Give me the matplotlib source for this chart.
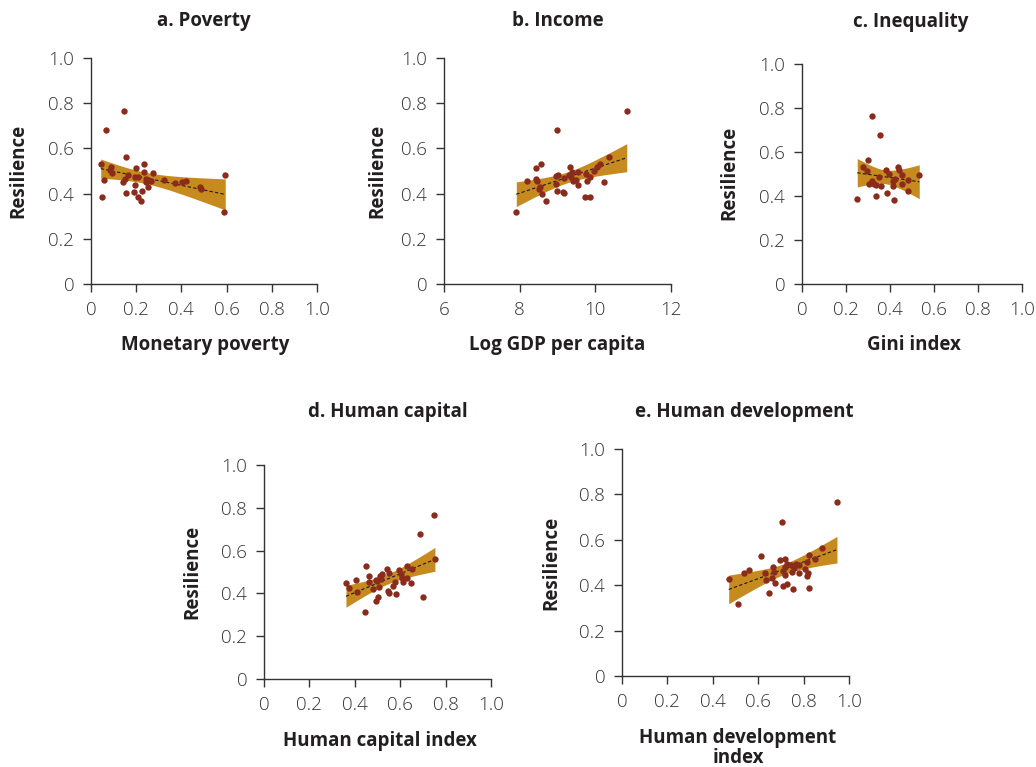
import numpy as np
import matplotlib.pyplot as plt

# a. Poverty
poverty_x = [0.147, 0.066, 0.153, 0.043, 0.233, 0.088, 0.200, 0.083, 0.094, 0.235,
             0.274, 0.165, 0.207, 0.195, 0.150, 0.242, 0.059, 0.142, 0.254, 0.265,
             0.324, 0.242, 0.372, 0.401, 0.419, 0.195, 0.251, 0.484, 0.487, 0.227,
             0.189, 0.156, 0.050, 0.209, 0.220, 0.594, 0.587]
poverty_y = [0.767, 0.680, 0.563, 0.532, 0.530, 0.516, 0.513, 0.504, 0.490, 0.496,
             0.493, 0.481, 0.473, 0.472, 0.466, 0.466, 0.460, 0.451, 0.459, 0.457,
             0.462, 0.451, 0.446, 0.453, 0.457, 0.440, 0.431, 0.428, 0.419, 0.413,
             0.409, 0.404, 0.386, 0.384, 0.366, 0.482, 0.317]

# b. Income
income_x = [10.83, 8.995, 10.37, 8.564, 8.432, 10.13, 10.04, 9.973, 9.330, 9.005,
            8.952, 9.180, 9.390, 9.534, 9.312, 9.745, 9.867, 9.349, 9.400, 9.497,
            9.542, 9.780, 8.186, 8.424, 8.467, 8.952, 8.546, 8.511, 10.24, 8.979,
            9.137, 9.180, 8.582, 9.727, 9.851, 8.704, 7.911]
income_y = [0.765, 0.680, 0.563, 0.530, 0.512, 0.531, 0.518, 0.500, 0.518, 0.482,
            0.478, 0.468, 0.494, 0.496, 0.484, 0.487, 0.472, 0.472, 0.457, 0.460,
            0.440, 0.457, 0.457, 0.466, 0.456, 0.444, 0.428, 0.419, 0.451, 0.413,
            0.407, 0.404, 0.397, 0.384, 0.386, 0.366, 0.317]

# c. Inequality
gini_x = [0.318, 0.356, 0.301, 0.279, 0.295, 0.380, 0.435, 0.442, 0.395, 0.456,
          0.533, 0.349, 0.421, 0.415, 0.482, 0.318, 0.303, 0.327, 0.336, 0.453,
          0.358, 0.415, 0.482, 0.385, 0.336, 0.251, 0.418, 0.318]
gini_y = [0.765, 0.679, 0.564, 0.530, 0.512, 0.518, 0.530, 0.517, 0.500, 0.494,
          0.495, 0.486, 0.477, 0.468, 0.471, 0.462, 0.453, 0.456, 0.451, 0.456,
          0.444, 0.447, 0.421, 0.412, 0.398, 0.388, 0.383, 0.468]

# d. Human capital
hci_x = [0.750, 0.689, 0.753, 0.449, 0.628, 0.652, 0.540, 0.596, 0.552, 0.520,
         0.511, 0.461, 0.405, 0.602, 0.608, 0.628, 0.499, 0.517, 0.579, 0.614,
         0.464, 0.361, 0.649, 0.570, 0.376, 0.508, 0.482, 0.408, 0.546, 0.552,
         0.581, 0.699, 0.502, 0.493, 0.446, 0.493]
hci_y = [0.765, 0.678, 0.562, 0.526, 0.528, 0.514, 0.516, 0.511, 0.494, 0.491,
         0.481, 0.480, 0.464, 0.489, 0.473, 0.473, 0.458, 0.467, 0.452, 0.455,
         0.452, 0.450, 0.449, 0.436, 0.427, 0.430, 0.419, 0.405, 0.411, 0.402,
         0.396, 0.385, 0.382, 0.363, 0.315, 0.461]

# e. Human development
hdi_x = [0.947, 0.703, 0.880, 0.611, 0.825, 0.852, 0.718, 0.697, 0.816, 0.728,
         0.743, 0.767, 0.778, 0.664, 0.719, 0.758, 0.808, 0.558, 0.708, 0.537,
         0.631, 0.671, 0.749, 0.778, 0.819, 0.719, 0.814, 0.470, 0.661, 0.634,
         0.673, 0.728, 0.708, 0.755, 0.822, 0.646, 0.510]
hdi_y = [0.767, 0.680, 0.564, 0.530, 0.532, 0.517, 0.517, 0.512, 0.501, 0.495,
         0.490, 0.495, 0.488, 0.481, 0.479, 0.476, 0.473, 0.467, 0.464, 0.452,
         0.454, 0.458, 0.458, 0.455, 0.452, 0.446, 0.441, 0.429, 0.432, 0.422,
         0.411, 0.405, 0.396, 0.385, 0.388, 0.367, 0.317]

unit_ticks = [0, 0.2, 0.4, 0.6, 0.8, 1.0]
unit_labels = ["0", "0.2", "0.4", "0.6", "0.8", "1.0"]
gdp_ticks = [6, 8, 10, 12]
gdp_labels = ["6", "8", "10", "12"]

DOT = "#8a2b1c"
BAND = "#c78a1e"
INK = "#333333"
W, H = 1036, 767

plt.rcParams['font.family'] = ['Open Sans', 'DejaVu Sans']


def fit_band(x, y, t=2.03):
    x = np.asarray(x)
    y = np.asarray(y)
    n = len(x)
    slope, icpt = np.polyfit(x, y, 1)
    xs = np.linspace(x.min(), x.max(), 100)
    yhat = icpt + slope * xs
    resid = y - (icpt + slope * x)
    s = np.sqrt(np.sum(resid ** 2) / (n - 2))
    se = s * np.sqrt(1 / n + (xs - x.mean()) ** 2 / np.sum((x - x.mean()) ** 2))
    return xs, yhat, yhat - t * se, yhat + t * se


def px_box(left, right, top, bottom):
    return [left / W, 1 - bottom / H, (right - left) / W, (bottom - top) / H]


fig = plt.figure(figsize=(W / 100, H / 100), dpi=100)

panels = [
    dict(x=poverty_x, y=poverty_y, box=(91, 317, 58, 284), xlim=(0, 1),
         ticks=unit_ticks, labels=unit_labels, title="a. Poverty", tpos=(204, 21),
         xlabel="Monetary poverty", xpos=(205, 345), ypos=(18, 171)),
    dict(x=income_x, y=income_y, box=(444, 671, 58, 284), xlim=(6, 12),
         ticks=gdp_ticks, labels=gdp_labels, title="b. Income", tpos=(558, 21),
         xlabel="Log GDP per capita", xpos=(557, 345), ypos=(377, 171)),
    dict(x=gini_x, y=gini_y, box=(802, 1022, 64, 284), xlim=(0, 1),
         ticks=unit_ticks, labels=unit_labels, title="c. Inequality", tpos=(911, 22),
         xlabel="Gini index", xpos=(914, 345), ypos=(729, 173)),
    dict(x=hci_x, y=hci_y, box=(264, 491, 465, 679), xlim=(0, 1),
         ticks=unit_ticks, labels=unit_labels, title="d. Human capital", tpos=(388, 412),
         xlabel="Human capital index", xpos=(380, 741), ypos=(192, 572)),
    dict(x=hdi_x, y=hdi_y, box=(622, 849, 449, 676), xlim=(0, 1),
         ticks=unit_ticks, labels=unit_labels, title="e. Human development", tpos=(744, 412),
         xlabel="Human development\nindex", xpos=(738, 748), ypos=(551, 563)),
]

for p in panels:
    ax = fig.add_axes(px_box(*p["box"]))
    xs, yhat, lo, hi = fit_band(p["x"], p["y"])
    ax.fill_between(xs, lo, hi, color=BAND, lw=0, zorder=1)
    ax.plot(xs, yhat, color="#1a1a1a", lw=0.8, ls=(0, (3, 2)), zorder=2)
    ax.scatter(p["x"], p["y"], s=21, color=DOT, lw=0, zorder=3)

    ax.set_xlim(*p["xlim"])
    ax.set_ylim(0, 1)
    ax.set_xticks(p["ticks"])
    ax.set_xticklabels(p["labels"])
    ax.set_yticks(unit_ticks)
    ax.set_yticklabels(unit_labels)
    for side in ("top", "right"):
        ax.spines[side].set_visible(False)
    for side in ("left", "bottom"):
        ax.spines[side].set_color(INK)
        ax.spines[side].set_linewidth(1.0)
    ax.tick_params(direction="out", length=6, width=1.0, color=INK, pad=6,
                   labelsize=13.5, labelcolor=INK)
    for lab in ax.get_xticklabels() + ax.get_yticklabels():
        lab.set_fontweight("light")

    fig.text(p["tpos"][0] / W, 1 - p["tpos"][1] / H, p["title"], ha="center",
             va="center", fontsize=13.5, fontweight="bold", color="#231f20")
    fig.text(p["xpos"][0] / W, 1 - p["xpos"][1] / H, p["xlabel"], ha="center",
             va="center", fontsize=13.5, fontweight="bold", color="#231f20",
             linespacing=1.05)
    fig.text(p["ypos"][0] / W, 1 - p["ypos"][1] / H, "Resilience", ha="center",
             va="center", rotation=90, fontsize=13.5, fontweight="bold", color="#231f20")

fig.savefig("out.png", dpi=100)
